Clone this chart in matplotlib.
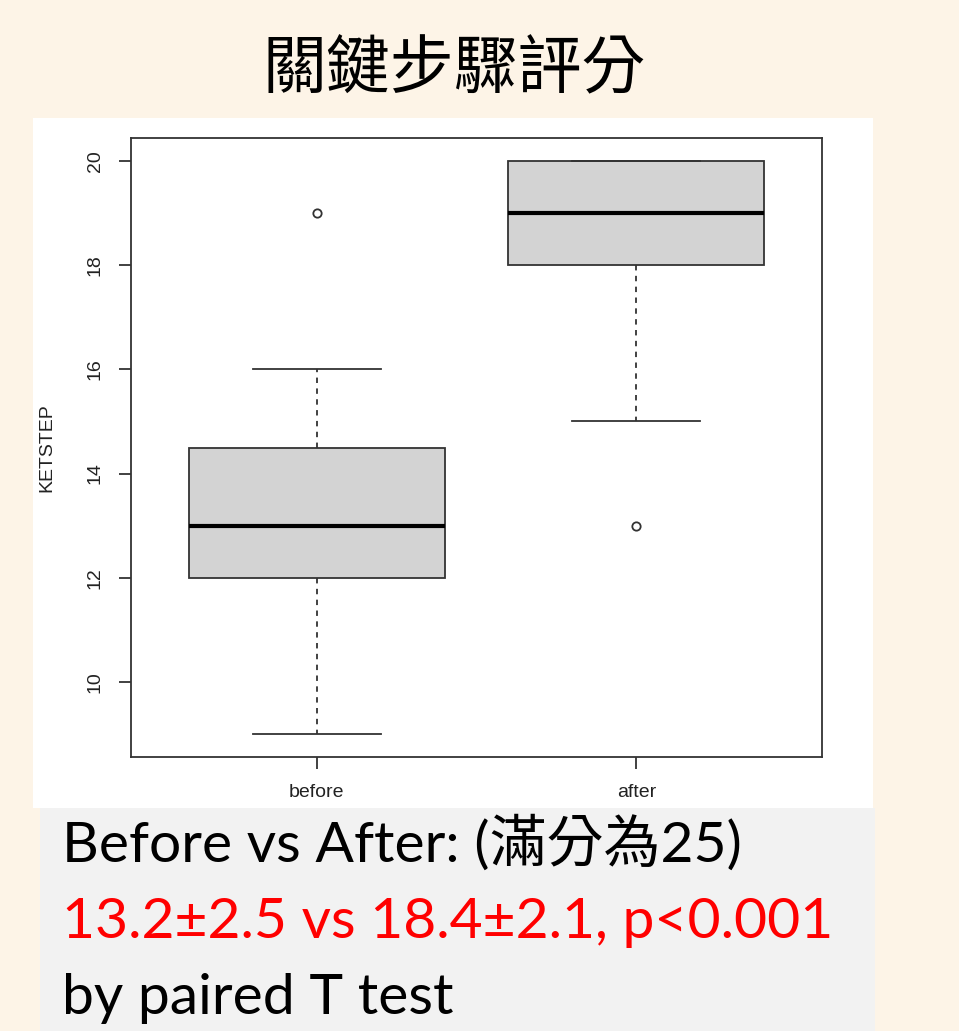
import matplotlib.pyplot as plt
from matplotlib.patches import Rectangle

# score summary per group (five-number summary + outliers)
groups = ['before', 'after']
whisker_low = [9, 15]
q1 = [12, 18]
medians = [13, 19]
q3 = [14.5, 20]
whisker_high = [16, 20]
outliers = [[19], [13]]

y_ticks = [10, 12, 14, 16, 18, 20]

title = '關鍵步驟評分'
line1 = 'Before vs After: (滿分為25)'
line2 = '13.2±2.5 vs 18.4±2.1, p<0.001'
line3 = 'by paired T test'

W, H = 959, 1031
bg = '#FDF4E7'
ink = '#333333'

fig = plt.figure(figsize=(W / 100, H / 100), dpi=100, facecolor=bg)


def px_rect(x0, y0, x1, y1, color):
    # rectangle given in pixel coords measured from top-left
    r = Rectangle((x0 / W, 1 - y1 / H), (x1 - x0) / W, (y1 - y0) / H,
                  transform=fig.transFigure, facecolor=color,
                  edgecolor='none', zorder=0)
    fig.add_artist(r)


px_rect(33, 118, 873, 808, 'white')
px_rect(40, 808, 875, 1031, '#F2F2F2')

fig.text(454 / W, 1 - 70 / H, title, ha='center', va='center',
         fontsize=46, family=['Noto Sans CJK TC'], weight='light')

ax = fig.add_axes([131 / W, 1 - 757 / H, (822 - 131) / W, (757 - 138) / H])
ax.set_facecolor('white')

stats = []
for i, g in enumerate(groups):
    stats.append(dict(label=g, whislo=whisker_low[i], q1=q1[i], med=medians[i],
                      q3=q3[i], whishi=whisker_high[i], fliers=outliers[i]))

lw = 1.3
ax.bxp(stats, positions=[1, 2], widths=0.8, capwidths=0.4, patch_artist=True,
       boxprops=dict(facecolor='#D3D3D3', edgecolor=ink, linewidth=lw),
       medianprops=dict(color='black', linewidth=3, solid_capstyle='butt'),
       whiskerprops=dict(color=ink, linewidth=lw, linestyle=(0, (3, 3))),
       capprops=dict(color=ink, linewidth=lw),
       flierprops=dict(marker='o', markerfacecolor='none',
                       markeredgecolor=ink, markersize=6,
                       markeredgewidth=lw))

ax.set_xlim(0.42, 2.58)
ax.set_ylim(8.56, 20.44)
ax.set_yticks(y_ticks)
ax.set_yticklabels([str(t) for t in y_ticks], rotation=90, va='center',
                   family='Liberation Sans', fontsize=14, color='#222222')
ax.set_xticks([1, 2])
ax.set_xticklabels(groups, family='Liberation Sans', fontsize=14,
                   color='#222222')
ax.tick_params(direction='out', length=8.6, width=lw, color=ink, pad=11)
for s in ax.spines.values():
    s.set_linewidth(lw)
    s.set_color(ink)

ax.set_ylabel('KETSTEP', family='Liberation Sans', fontsize=14,
              color='#222222', va='center')
ax.yaxis.set_label_coords((47 - 131) / 691, 0.5)

fam = ['Lato', 'Noto Sans CJK TC']
fig.text(62 / W, 1 - 862 / H, line1, ha='left', va='baseline',
         fontsize=41, family=fam, color='black')
fig.text(62 / W, 1 - 938 / H, line2, ha='left', va='baseline',
         fontsize=41, family=fam, color='#FF0000')
fig.text(62 / W, 1 - 1014 / H, line3, ha='left', va='baseline',
         fontsize=41, family=fam, color='black')

fig.savefig('out.png', dpi=100, facecolor=bg)
